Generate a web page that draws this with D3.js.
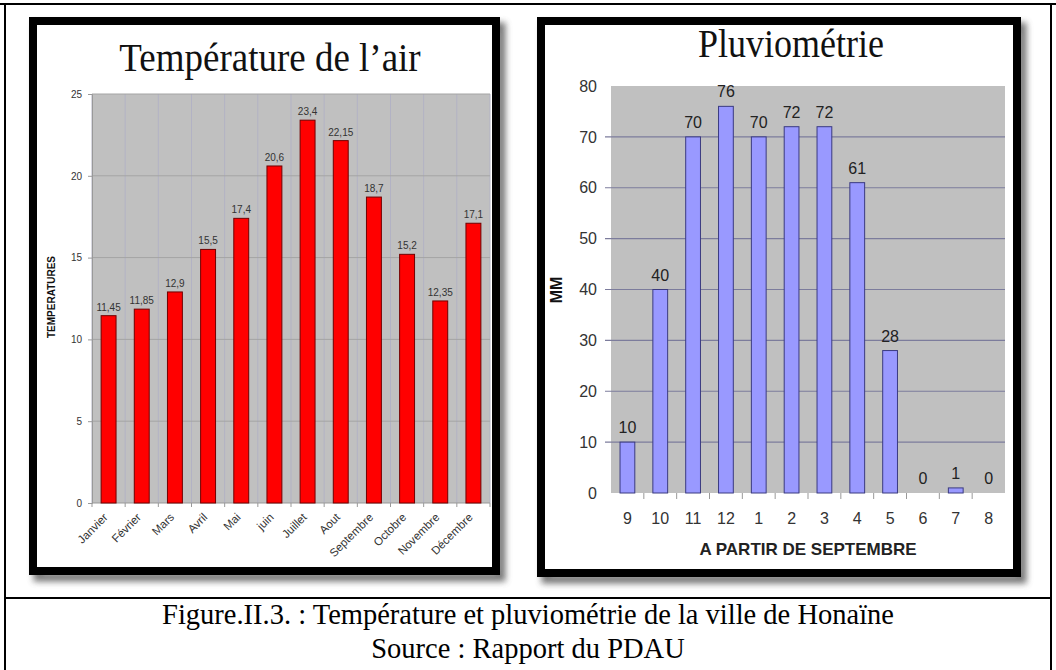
<!DOCTYPE html>
<html><head><meta charset="utf-8">
<script src="https://cdn.jsdelivr.net/npm/d3@7"></script>
<style>body{margin:0;background:#fff}svg{display:block}</style>
</head><body><svg id="c" width="1056" height="670"></svg>
<script>
// ---- data ----
const months = ["Janvier","Février","Mars","Avril","Mai","juin","Juillet","Aout","Septembre","Octobre","Novembre","Décembre"];
const temps = [11.45, 11.85, 12.9, 15.5, 17.4, 20.6, 23.4, 22.15, 18.7, 15.2, 12.35, 17.1];
const tempTicks = [0, 5, 10, 15, 20, 25];
const rainMonths = ["9","10","11","12","1","2","3","4","5","6","7","8"];
const rain = [10, 40, 70, 76, 70, 72, 72, 61, 28, 0, 1, 0];
const rainTicks = [0, 10, 20, 30, 40, 50, 60, 70, 80];
const titleTemp = "Température de l\u2019air";
const titleRain = "Pluviométrie";
const yTitleTemp = "TEMPERATURES";
const yTitleRain = "MM";
const xTitleRain = "A PARTIR DE SEPTEMBRE";
const caption1 = "Figure.II.3. : Température et pluviométrie de la ville de Honaïne";
const caption2 = "Source : Rapport du PDAU";

const svg = d3.select("#c");
const SANS = "'Liberation Sans', Arial, sans-serif";
const SERIF = "'Liberation Serif', 'Times New Roman', serif";

svg.append("rect").attr("width",1056).attr("height",670).attr("fill","#fff");

const defs = svg.append("defs");
defs.append("filter").attr("id","blur").attr("x","-10%").attr("y","-10%").attr("width","120%").attr("height","120%")
  .append("feGaussianBlur").attr("stdDeviation",3);

// outer table frame
const frame = svg.append("g").attr("stroke","#000").attr("stroke-width",2);
frame.append("line").attr("x1",0).attr("x2",1056).attr("y1",4).attr("y2",4);
frame.append("line").attr("x1",5).attr("x2",5).attr("y1",4).attr("y2",670);
frame.append("line").attr("x1",1051).attr("x2",1051).attr("y1",4).attr("y2",670);
frame.append("line").attr("x1",5).attr("x2",1051).attr("y1",598).attr("y2",598);

function panel(x, y, w, h) {
  svg.append("rect").attr("x",x+5).attr("y",y+6).attr("width",w).attr("height",h)
    .attr("fill","none").attr("stroke","#555").attr("stroke-width",9).attr("opacity",0.8).attr("filter","url(#blur)");
  svg.append("rect").attr("x",x).attr("y",y).attr("width",w).attr("height",h)
    .attr("fill","#fff").attr("stroke","#000").attr("stroke-width",8);
}
panel(33, 21, 463, 550);
panel(541, 21, 476, 552);

function serifText(str, x, y, size, sy) {
  svg.append("text").attr("transform",`translate(${x},${y}) scale(1,${sy})`).attr("text-anchor","middle")
    .attr("font-family",SERIF).attr("font-size",size).attr("fill","#111").text(str);
}

// ---------- LEFT: temperature ----------
{
  const x = d3.scaleBand().domain(months).range([92, 490]).paddingInner(0.55).paddingOuter(0.275);
  const y = d3.scaleLinear().domain([0, 25]).range([503, 94]);
  const g = svg.append("g");
  g.append("rect").attr("x",92).attr("y",94).attr("width",398).attr("height",409).attr("fill","#c0c0c0");
  const step = x.step();
  g.append("g").selectAll("line").data(d3.range(months.length+1)).join("line")
    .attr("x1",i=>92+i*step).attr("x2",i=>92+i*step).attr("y1",94).attr("y2",503)
    .attr("stroke","#b2b2c4").attr("stroke-width",1);
  g.append("g").selectAll("line").data(tempTicks.slice(1)).join("line")
    .attr("x1",92).attr("x2",490).attr("y1",d=>y(d)).attr("y2",d=>y(d))
    .attr("stroke","#a4a4a4").attr("stroke-width",1);
  const ya = g.append("g").attr("transform","translate(92,0)")
    .call(d3.axisLeft(y).tickValues(tempTicks).tickSize(4).tickPadding(6));
  ya.select(".domain").attr("stroke","#999");
  ya.selectAll(".tick line").attr("stroke","#999");
  ya.selectAll("text").attr("font-family",SANS).attr("font-size",10).attr("fill","#333");
  g.append("line").attr("x1",92).attr("x2",490).attr("y1",503).attr("y2",503).attr("stroke","#999");
  g.append("g").selectAll("line").data(d3.range(months.length+1)).join("line")
    .attr("x1",i=>92+i*step).attr("x2",i=>92+i*step).attr("y1",503).attr("y2",507)
    .attr("stroke","#999");
  g.append("g").selectAll("rect").data(temps).join("rect")
    .attr("x",(d,i)=>x(months[i])).attr("width",x.bandwidth())
    .attr("y",d=>y(d)).attr("height",d=>y(0)-y(d))
    .attr("fill","#ff0000").attr("stroke","#700000").attr("stroke-width",1);
  g.append("g").selectAll("text").data(temps).join("text")
    .attr("x",(d,i)=>x(months[i])+x.bandwidth()/2).attr("y",d=>y(d)-5)
    .attr("text-anchor","middle").attr("font-family",SANS).attr("font-size",10).attr("fill","#333")
    .text(d=>String(d).replace(".", ","));
  g.append("g").selectAll("text").data(months).join("text")
    .attr("transform",d=>`translate(${x(d)+x.bandwidth()/2},518) rotate(-45)`)
    .attr("text-anchor","end").attr("font-family",SANS).attr("font-size",11.5).attr("fill","#333")
    .text(d=>d);
  serifText(titleTemp, 270, 71, 37, 1.1);
  svg.append("text").attr("transform","translate(55,297) rotate(-90)").attr("text-anchor","middle")
    .attr("font-family",SANS).attr("font-weight","bold").attr("font-size",10).attr("fill","#111").text(yTitleTemp);
}

// ---------- RIGHT: rainfall ----------
{
  const x = d3.scaleBand().domain(rainMonths).range([611, 1005]).paddingInner(0.55).paddingOuter(0.275);
  const y = d3.scaleLinear().domain([0, 80]).range([493, 86]);
  const g = svg.append("g");
  g.append("rect").attr("x",611).attr("y",86).attr("width",394).attr("height",407).attr("fill","#c0c0c0");
  g.append("g").selectAll("line").data(rainTicks.slice(1, -1)).join("line")
    .attr("x1",605).attr("x2",1005).attr("y1",d=>y(d)).attr("y2",d=>y(d))
    .attr("stroke","#7c7c9c").attr("stroke-width",1.2);
  const ya = g.append("g").attr("transform","translate(611,0)")
    .call(d3.axisLeft(y).tickValues(rainTicks).tickSize(0).tickPadding(14));
  ya.select(".domain").remove();
  ya.selectAll("text").attr("font-family",SANS).attr("font-size",16).attr("fill","#333");
  const step = x.step();
  g.append("g").selectAll("line").data(d3.range(1, rainMonths.length)).join("line")
    .attr("x1",i=>611+i*step).attr("x2",i=>611+i*step).attr("y1",493).attr("y2",499)
    .attr("stroke","#999");
  const xa = g.append("g").attr("transform","translate(0,493)")
    .call(d3.axisBottom(x).tickSize(0).tickPadding(20));
  xa.select(".domain").remove();
  xa.selectAll("text").attr("font-family",SANS).attr("font-size",16).attr("fill","#333");
  g.append("g").selectAll("rect").data(rain).join("rect")
    .attr("x",(d,i)=>x(rainMonths[i])).attr("width",x.bandwidth())
    .attr("y",d=>y(d)).attr("height",d=>y(0)-y(d))
    .attr("fill","#9999ff").attr("stroke","#3a3a80").attr("stroke-width",1);
  g.append("g").selectAll("text").data(rain).join("text")
    .attr("x",(d,i)=>x(rainMonths[i])+x.bandwidth()/2).attr("y",d=>y(d)-9)
    .attr("text-anchor","middle").attr("font-family",SANS).attr("font-size",16).attr("fill","#222")
    .text(d=>d);
  serifText(titleRain, 791, 57, 36, 1.1);
  svg.append("text").attr("x",808).attr("y",555).attr("text-anchor","middle")
    .attr("font-family",SANS).attr("font-weight","bold").attr("font-size",17).attr("fill","#222").text(xTitleRain);
  svg.append("text").attr("transform","translate(562,290) rotate(-90)").attr("text-anchor","middle")
    .attr("font-family",SANS).attr("font-weight","bold").attr("font-size",16).attr("fill","#111").text(yTitleRain);
}

// captions
svg.append("text").attr("x",528).attr("y",624).attr("text-anchor","middle")
  .attr("font-family",SERIF).attr("font-size",28.5).attr("fill","#000").text(caption1);
svg.append("text").attr("x",528).attr("y",658).attr("text-anchor","middle")
  .attr("font-family",SERIF).attr("font-size",28.5).attr("fill","#000").text(caption2);
</script></body></html>
